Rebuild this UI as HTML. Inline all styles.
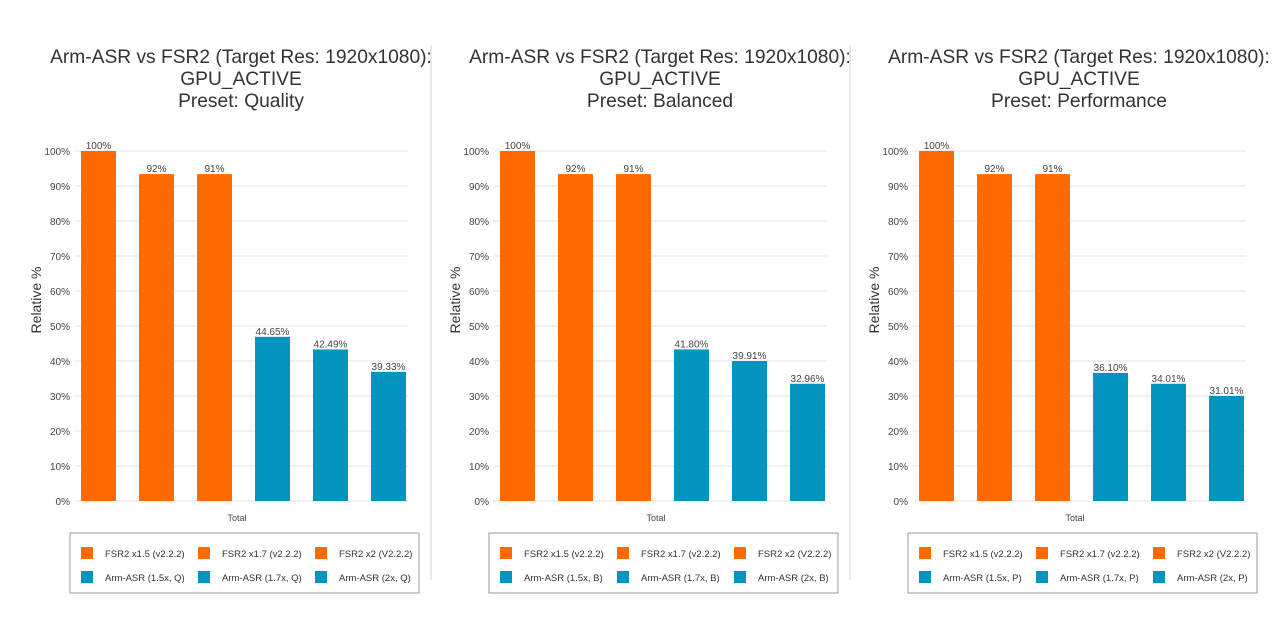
<!DOCTYPE html>
<html><head><meta charset="utf-8">
<style>
body{margin:0;width:1280px;height:640px;background:#fff;overflow:hidden;font-family:"Liberation Sans",sans-serif;}
svg{position:absolute;left:0;top:0}
</style></head>
<body>
<svg id="c" width="1280" height="640"></svg>
<script>
const presets = ["Quality","Balanced","Performance"];
const presetCodes = ["Q","B","P"];
const seriesNames = ["FSR2 x1.5 (v2.2.2)","FSR2 x1.7 (v2.2.2)","FSR2 x2 (V2.2.2)","Arm-ASR (1.5x, #)","Arm-ASR (1.7x, #)","Arm-ASR (2x, #)"];
const qualityValues = [100, 93.4, 93.4, 46.9, 43.3, 36.9];
const balancedValues = [100, 93.4, 93.4, 43.3, 40.0, 33.5];
const performanceValues = [100, 93.4, 93.4, 36.6, 33.5, 30.0];
const qualityLabels = ["100%","92%","91%","44.65%","42.49%","39.33%"];
const balancedLabels = ["100%","92%","91%","41.80%","39.91%","32.96%"];
const performanceLabels = ["100%","92%","91%","36.10%","34.01%","31.01%"];
const yTicks = [0,10,20,30,40,50,60,70,80,90,100];
const colors = ["#ff6a00","#ff6a00","#ff6a00","#0394c0","#0394c0","#0394c0"];

const NS="http://www.w3.org/2000/svg";
const svg=document.getElementById('c');
function mk(tag,attrs,parent,text){const e=document.createElementNS(NS,tag);for(const k in attrs)e.setAttribute(k,attrs[k]);if(text!==undefined)e.textContent=text;(parent||svg).appendChild(e);return e;}
const allValues=[qualityValues,balancedValues,performanceValues];
const allLabels=[qualityLabels,balancedLabels,performanceLabels];
const y0=501, pxPer=3.5;
function yScale(v){return y0-v*pxPer;}

for(let p=0;p<3;p++){
  const ox=p*419;
  const g=mk('g',{});
  
  
  const cx=241+ox;
  const titles=["Arm-ASR vs FSR2 (Target Res: 1920x1080):","GPU_ACTIVE","Preset: "+presets[p]];
  titles.forEach((t,i)=>{const e=mk('text',{x:cx,y:63+i*22,'text-anchor':'middle','font-size':19.2,fill:'#333'},g,t);
    
    });
  yTicks.forEach(t=>{const y=yScale(t);
    const l=mk('line',{x1:75+ox,x2:408+ox,y1:y,y2:y,stroke:'#e3e3e3','stroke-width':1},g);
    
    
    const tx=mk('text',{x:70+ox,y:y+4,'text-anchor':'end','font-size':10,fill:'#444'},g,t+'%');
    
    });
  const yl=mk('text',{x:0,y:0,transform:`translate(${41+ox},300) rotate(-90)`,'text-anchor':'middle','font-size':14,fill:'#333'},g,'Relative %');
  
  
  const vals=allValues[p], labs=allLabels[p];
  vals.forEach((v,i)=>{const x=81+ox+i*58;const y=yScale(v);
    const r=mk('rect',{x:x,y:y,width:35,height:y0-y,fill:colors[i]},g);
    
    
    const t=mk('text',{x:x+17.5,y:y-2,'text-anchor':'middle','font-size':10,fill:'#444'},g,labs[i]);
    
    });
  const xt=mk('text',{x:237+ox,y:521,'text-anchor':'middle','font-size':9,fill:'#444'},g,'Total');
  
  
  const lb=mk('rect',{x:70+ox,y:533,width:349,height:60,fill:'#fff',stroke:'#999','stroke-width':1},g);
  
  
  seriesNames.forEach((n,i)=>{const col=i%3,row=Math.floor(i/3);
    const x=81+ox+col*117,y=547+row*24;
    const s=mk('rect',{x:x,y:y,width:12,height:12,fill:colors[i]},g);
    
    
    const t=mk('text',{x:x+24,y:y+10,'font-size':9.5,fill:'#333'},g,n.replace('#',presetCodes[p]));
    
    });
  if(p<2){const s=mk('line',{x1:431+ox,x2:431+ox,y1:45,y2:580,stroke:'#e2e2e2','stroke-width':1.5},g);
    
    }
}
</script>
</body></html>
